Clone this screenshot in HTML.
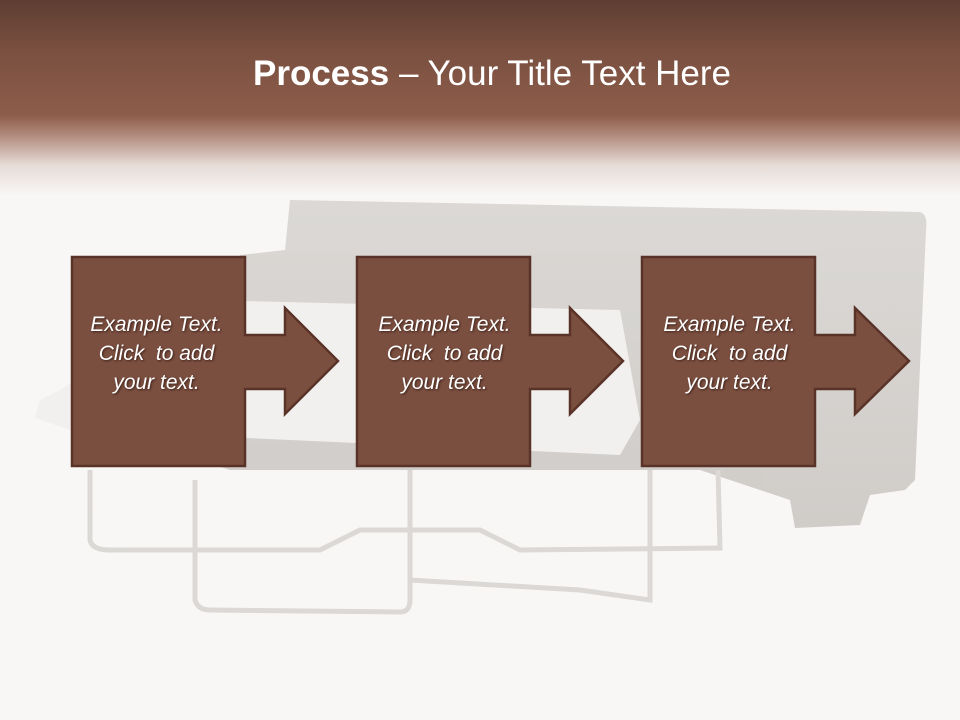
<!DOCTYPE html>
<html><head><style>
body{margin:0;width:960px;height:720px;overflow:hidden;background:#f8f7f5;font-family:"Liberation Sans",sans-serif;position:relative}
.hdr{position:absolute;left:0;top:0;width:960px;height:200px;background:linear-gradient(#5e3d32 0px,#7a5040 50px,#8d5c4b 115px,#b08a7c 135px,#e6dbd6 165px,#f8f7f5 195px)}
.title{position:absolute;top:54px;left:0;width:984px;text-align:center;color:#fff;font-size:35px}
svg{position:absolute;left:0;top:0}
.t{position:absolute;width:173px;text-align:center;color:#fff;font-style:italic;font-size:21px;line-height:29px;top:310px;text-shadow:1px 1px 2px #3a2018}
</style></head><body>
<div class="hdr"></div>
<div class="title"><b>Process</b> – Your Title Text Here</div>
<svg width="960" height="720">
<defs><linearGradient id="s" x1="0" y1="0" x2="0" y2="1"><stop offset="0" stop-color="#d6d3d0"/><stop offset="1" stop-color="#c9c5c1"/></linearGradient></defs>
<g opacity="0.85">
<path d="M290 200 L920 212 Q928 214 926 230 L915 480 L905 490 L870 495 L860 525 L795 528 L790 500 L700 470 L230 470 L200 460 L240 255 L285 250 Z" fill="url(#s)"/>
<path d="M40 400 L60 390 L200 300 L620 310 L640 420 L620 455 L70 430 L35 418 Z" fill="#f1efed"/>
<g fill="none" stroke="#d6d3d0" stroke-width="5">
<path d="M90 470 L90 540 Q92 550 110 550 L320 550 L360 530 L480 530 L520 550 L720 548 L718 470"/>
<path d="M195 480 L195 600 Q198 610 210 610 L400 612 Q410 612 410 600 L410 470"/>
<path d="M410 580 L580 590 L650 600 L650 470"/>
</g>
</g>
<g fill="#7b4f40" stroke="#5a3328" stroke-width="2.5" stroke-linejoin="miter">
<path d="M72 257 H245 V335 H285 V308 L338 361 L285 414 V389 H245 V466 H72 Z"/>
<path d="M357 257 H530 V335 H570 V308 L623 361 L570 414 V389 H530 V466 H357 Z"/>
<path d="M642 257 H815 V335 H855 V308 L909 361 L855 414 V389 H815 V466 H642 Z"/>
</g>
</svg>
<div class="t" style="left:70px">Example Text.<br>Click &nbsp;to add<br>your text.</div>
<div class="t" style="left:358px">Example Text.<br>Click &nbsp;to add<br>your text.</div>
<div class="t" style="left:643px">Example Text.<br>Click &nbsp;to add<br>your text.</div>
</body></html>
